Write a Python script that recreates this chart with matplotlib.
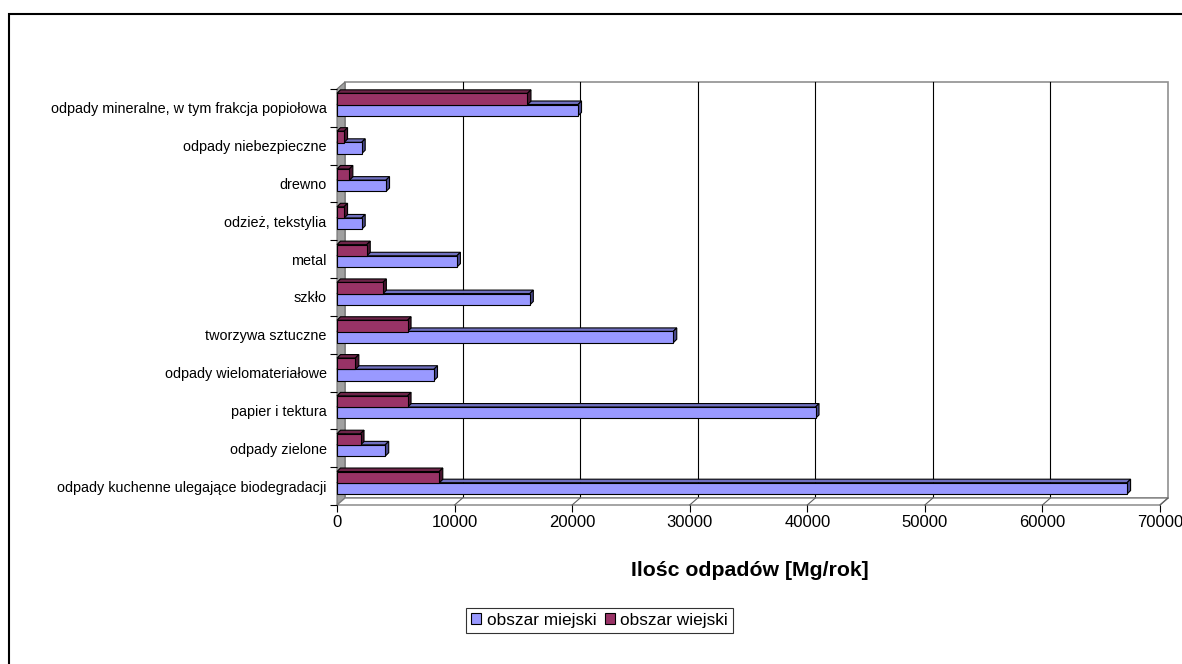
import matplotlib
matplotlib.use("Agg")
import matplotlib.pyplot as plt
from matplotlib.patches import Polygon, Rectangle, Patch
from matplotlib.lines import Line2D

plt.rcParams['font.family'] = ['Liberation Sans', 'DejaVu Sans']

# --- data -------------------------------------------------------------
categories = [
    "odpady kuchenne ulegające biodegradacji",
    "odpady zielone",
    "papier i tektura",
    "odpady wielomateriałowe",
    "tworzywa sztuczne",
    "szkło",
    "metal",
    "odzież, tekstylia",
    "drewno",
    "odpady niebezpieczne",
    "odpady mineralne, w tym frakcja popiołowa",
]
miejski = [67200, 4100, 40700, 8250, 28600, 16400, 10200, 2100, 4170, 2100, 20500]
wiejski = [8700, 2000, 6000, 1560, 6000, 3900, 2530, 600, 1050, 600, 16200]
series_names = ["obszar miejski", "obszar wiejski"]
x_ticks = [0, 10000, 20000, 30000, 40000, 50000, 60000, 70000]
x_label = "Ilośc odpadów [Mg/rok]"

# --- style --------------------------------------------------------------
W, H = 1182, 664
col_front = {"m": "#9999FF", "w": "#993366"}
col_top = {"m": "#7070C0", "w": "#6E2449"}
col_side = {"m": "#4A4A8C", "w": "#4A1530"}
WALL_DX, WALL_DY = 8, 7     # depth of the chart walls in pixels
BAR_D = 3.5                 # depth of each bar in pixels
BAR_H = 0.30
OFF_M, OFF_W = -0.06, 0.235

fig = plt.figure(figsize=(W / 100, H / 100), dpi=100)
fig.patch.set_facecolor("white")

# outer chart frame
fig.patches.append(Rectangle((9 / W, -0.1), 1.2, 1 - 14 / H + 0.1,
                             transform=fig.transFigure, fill=False,
                             edgecolor="black", linewidth=1.5))

x0, x1, ytop, ybot = 337, 1160, 89, 505
ax = fig.add_axes([x0 / W, 1 - ybot / H, (x1 - x0) / W, (ybot - ytop) / H])
ax.set_xlim(0, 70000)
ax.set_ylim(-0.5, len(categories) - 0.5)
for s in ax.spines.values():
    s.set_visible(False)
ax.patch.set_visible(False)


def shift(x, y, dx, dy):
    """Data point moved by (dx, dy) screen pixels, returned in data units."""
    p = ax.transData.transform((x, y))
    return tuple(ax.transData.inverted().transform((p[0] + dx, p[1] + dy)))


ymin, ymax = -0.5, len(categories) - 0.5
xmax = 70000

# back wall with grid lines
bw = [shift(0, ymin, WALL_DX, WALL_DY), shift(xmax, ymin, WALL_DX, WALL_DY),
      shift(xmax, ymax, WALL_DX, WALL_DY), shift(0, ymax, WALL_DX, WALL_DY)]
ax.add_patch(Polygon(bw, closed=True, facecolor="white", edgecolor="#909090",
                     linewidth=1.2, zorder=0.5, clip_on=False))
for xv in x_ticks[1:-1]:
    a = shift(xv, ymin, WALL_DX, WALL_DY)
    b = shift(xv, ymax, WALL_DX, WALL_DY)
    ax.add_line(Line2D([a[0], b[0]], [a[1], b[1]], color="black",
                       linewidth=0.8, zorder=0.6, clip_on=False))

# left side wall
lw_pts = [(0, ymin), (0, ymax), shift(0, ymax, WALL_DX, WALL_DY),
          shift(0, ymin, WALL_DX, WALL_DY)]
ax.add_patch(Polygon(lw_pts, closed=True, facecolor="#A0A0A0",
                     edgecolor="#707070", linewidth=0.8, zorder=0.7,
                     clip_on=False))

# floor
fl = [(0, ymin), (xmax, ymin), shift(xmax, ymin, WALL_DX, WALL_DY),
      shift(0, ymin, WALL_DX, WALL_DY)]
ax.add_patch(Polygon(fl, closed=True, facecolor="white", edgecolor="#808080",
                     linewidth=1.0, zorder=0.7, clip_on=False))
for xv in x_ticks[1:]:
    b = shift(xv, ymin, WALL_DX, WALL_DY)
    ax.add_line(Line2D([xv, b[0]], [ymin, b[1]], color="#606060",
                       linewidth=0.8, zorder=0.8, clip_on=False))


def bar3d(val, yc, key):
    yb, yt = yc - BAR_H / 2, yc + BAR_H / 2
    top = [(0, yt), (val, yt), shift(val, yt, BAR_D, BAR_D),
           shift(0, yt, BAR_D, BAR_D)]
    side = [(val, yb), (val, yt), shift(val, yt, BAR_D, BAR_D),
            shift(val, yb, BAR_D, BAR_D)]
    ax.add_patch(Polygon(top, closed=True, facecolor=col_top[key],
                         edgecolor="black", linewidth=0.8, zorder=2,
                         clip_on=False))
    ax.add_patch(Polygon(side, closed=True, facecolor=col_side[key],
                         edgecolor="black", linewidth=0.8, zorder=2,
                         clip_on=False))
    ax.barh(yc, val, height=BAR_H, left=0, color=col_front[key],
            edgecolor="black", linewidth=0.8, zorder=2.1, clip_on=False)


for i in range(len(categories)):
    bar3d(miejski[i], i + OFF_M, "m")
    bar3d(wiejski[i], i + OFF_W, "w")

# axes ticks and labels
ax.set_xticks(x_ticks)
ax.set_xticklabels([str(v) for v in x_ticks])
ax.tick_params(axis="x", length=5.0, width=0.8, color="black", pad=2,
               labelsize=12)
ax.set_yticks(range(len(categories)))
ax.set_yticklabels(categories)
ax.set_yticks([k - 0.5 for k in range(len(categories) + 1)], minor=True)
ax.tick_params(axis="y", which="major", length=0, pad=7.5, labelsize=10.4)
ax.tick_params(axis="y", which="minor", length=5.0, width=0.8, color="black")

fig.text(749.5 / W, 1 - 571 / H, x_label, ha="center", va="center",
         fontsize=15.3, fontweight="bold")

handles = [Patch(facecolor=col_front["m"], edgecolor="black", linewidth=0.8),
           Patch(facecolor=col_front["w"], edgecolor="black", linewidth=0.8)]
leg = fig.legend(handles, series_names, loc="center",
                 bbox_to_anchor=(599.5 / W, 1 - 620.5 / H), ncol=2,
                 fontsize=12.4, frameon=True, fancybox=False,
                 edgecolor="black", handlelength=0.6, handleheight=0.6,
                 handletextpad=0.3, columnspacing=0.5, borderpad=0.3,
                 borderaxespad=0)
leg.get_frame().set_linewidth(0.8)

fig.savefig("out.png", dpi=100)
